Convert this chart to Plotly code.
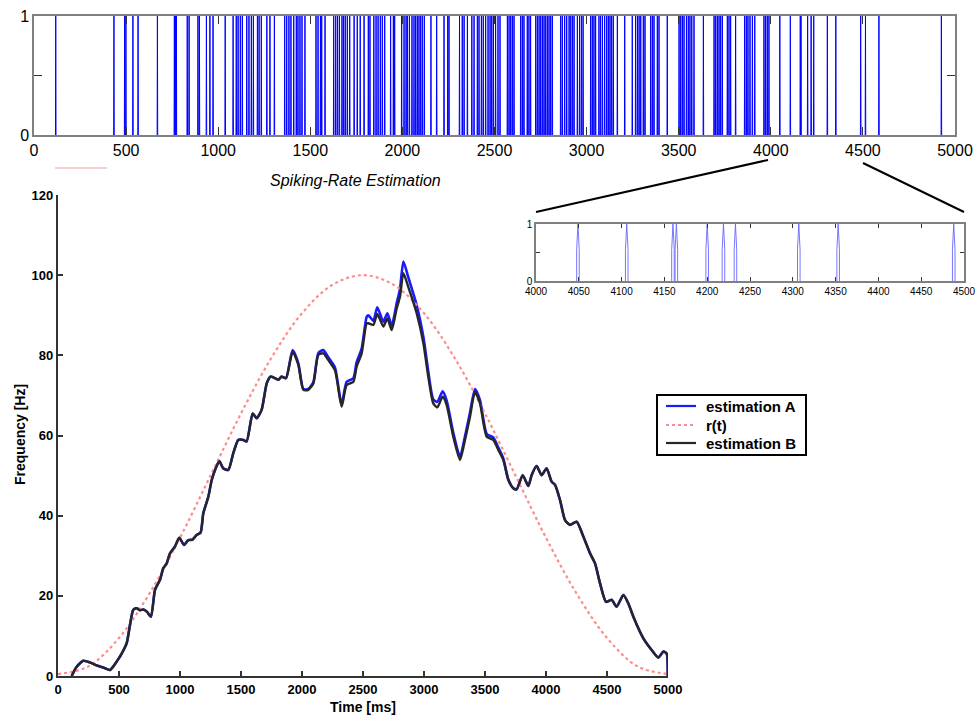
import plotly.graph_objects as go

W, H = 978, 718

# ---------------- data ----------------
spike_times = [
    118, 434, 492, 499, 537, 565, 670, 762, 768, 773, 832, 842, 890, 898, 936, 955, 972,
    1038, 1081, 1098, 1108, 1120, 1131, 1155, 1167, 1180, 1191, 1213, 1222, 1234, 1264,
    1281, 1305, 1361, 1372, 1384, 1395, 1410, 1424, 1433, 1444, 1455, 1471, 1531, 1542,
    1555, 1562, 1580, 1627, 1638, 1648, 1658, 1672, 1681, 1690, 1701, 1714, 1738, 1755,
    1771, 1792, 1815, 1824, 1845, 1857, 1868, 1880, 1891, 1904, 1936, 1951, 1958, 1996,
    2009, 2020, 2027, 2038, 2052, 2063, 2072, 2081, 2090, 2099, 2108, 2119, 2155, 2186,
    2226, 2246, 2253, 2310, 2325, 2335, 2353, 2377, 2389, 2407, 2416, 2429, 2439, 2452,
    2465, 2476, 2485, 2494, 2506, 2519, 2530, 2570, 2579, 2588, 2597, 2606, 2642, 2651,
    2660, 2678, 2687, 2696, 2724, 2733, 2742, 2751, 2760, 2769, 2778, 2787, 2796, 2805,
    2814, 2859, 2868, 2881, 2892, 2905, 2914, 2923, 2932, 2950, 2962, 2972, 2981, 3022,
    3031, 3040, 3049, 3067, 3076, 3086, 3098, 3109, 3118, 3127, 3136, 3145, 3167, 3207,
    3248, 3266, 3276, 3285, 3294, 3308, 3317, 3348, 3357, 3366, 3384, 3393, 3438, 3502,
    3511, 3520, 3529, 3542, 3552, 3561, 3571, 3583, 3634, 3692, 3701, 3710, 3719, 3728,
    3737, 3764, 3773, 3782, 3809, 3858, 3867, 3876, 3887, 3900, 3913, 3963, 3972, 3981,
    3990, 4049, 4106, 4160, 4164, 4200, 4219, 4233, 4307, 4353, 4488, 4514, 4587, 4926,
]

est_t = [112, 150, 207, 260, 320, 380, 426, 481, 522, 563, 590, 617, 645, 672, 699, 730,
         762, 795, 836, 863, 891, 918, 959, 994, 1033, 1068, 1101, 1137, 1169, 1191, 1232,
         1260, 1287, 1322, 1355, 1396, 1437, 1478, 1519, 1546, 1596, 1628, 1669, 1711, 1743,
         1779, 1806, 1833, 1869, 1923, 1970, 2011, 2052, 2093, 2134, 2175, 2216, 2270, 2325,
         2366, 2421, 2448, 2489, 2530, 2544, 2585, 2617, 2667, 2700, 2735, 2776, 2803, 2831,
         2871, 2940, 2995, 3035, 3076, 3109, 3153, 3186, 3240, 3295, 3336, 3377, 3418, 3459,
         3514, 3568, 3609, 3650, 3691, 3732, 3760, 3809, 3855, 3882, 3923, 3964, 4005, 4046,
         4074, 4115, 4156, 4197, 4251, 4306, 4361, 4402, 4443, 4492, 4538, 4579, 4634, 4675,
         4716, 4798, 4866, 4921, 4962, 4989, 4998]

est_B = [0, 2.2, 3.8, 3.4, 2.6, 2.0, 1.5, 3.6, 5.6, 8.2, 12.7, 16.5, 16.9, 16.4, 16.6, 16.0,
         14.8, 21.5, 24.0, 26.9, 28.1, 30.6, 32.3, 34.5, 32.7, 33.9, 34.0, 35.2, 35.8, 40.6, 44.7,
         48.9, 51.4, 53.6, 51.8, 51.4, 55.6, 58.9, 58.9, 58.5, 65.5, 64.3, 66.4, 73.0, 74.7,
         74.3, 73.9, 74.7, 74.3, 80.9, 77.6, 71.4, 71.4, 73.0, 80.1, 80.5, 78.8, 76.3, 67.2,
         72.6, 73.4, 77.2, 80.5, 88.0, 88.0, 87.6, 90.3, 87.2, 89.2, 86.3, 91.7, 94.6, 100.5,
         97.1, 90.5, 83.0, 74.7, 68.0, 67.0, 69.7, 67.6, 59.7, 53.9, 58.9, 64.7, 70.9, 68.0,
         59.7, 58.9, 56.4, 53.9, 48.9, 46.8, 46.6, 50.1, 47.4, 50.1, 52.4, 50.1, 51.8, 48.5,
         47.7, 43.9, 38.9, 37.7, 38.5, 34.8, 30.6, 28.1, 23.1, 18.5, 19.0, 17.3, 20.2, 18.1,
         14.8, 9.4, 6.5, 4.6, 6.1, 5.6, 0]

est_A = [0, 2.2, 3.8, 3.4, 2.6, 2.0, 1.5, 3.6, 5.6, 8.2, 12.7, 16.5, 16.9, 16.4, 16.6, 16.0,
         14.8, 21.5, 24.0, 26.9, 28.1, 30.6, 32.3, 34.5, 32.7, 33.9, 34.0, 35.2, 35.8, 40.6, 44.7,
         48.9, 51.4, 53.6, 51.8, 51.4, 55.6, 58.9, 58.9, 58.5, 65.5, 64.3, 66.4, 73.0, 74.7,
         74.3, 73.9, 74.7, 74.3, 81.3, 78.0, 71.6, 71.6, 73.3, 80.6, 81.3, 79.5, 77.0, 67.8,
         73.4, 74.3, 78.3, 81.7, 89.6, 90.0, 88.6, 92.0, 88.4, 90.5, 87.4, 93.0, 96.5, 103.4,
         99.5, 92.5, 84.6, 76.0, 69.0, 68.4, 71.0, 68.7, 60.7, 54.7, 59.8, 65.7, 71.6, 68.8,
         60.4, 59.5, 57.0, 54.3, 49.1, 46.9, 46.6, 50.1, 47.4, 50.1, 52.4, 50.1, 51.8, 48.5,
         47.7, 43.9, 38.9, 37.7, 38.5, 34.8, 30.6, 28.1, 23.1, 18.5, 19.0, 17.3, 20.2, 18.1,
         14.8, 9.4, 6.5, 4.6, 6.1, 5.6, 0]

r_t = [0, 250, 500, 750, 1000, 1250, 1500, 1750, 2000, 2250, 2500,
       2750, 3000, 3250, 3500, 3750, 4000, 4250, 4500, 4750, 5000]
r_vals = [0.5, 2.4, 9.5, 20.6, 34.5, 50.0, 65.5, 79.4, 90.5, 97.6, 100.0,
          97.6, 90.5, 79.4, 65.5, 50.0, 34.5, 20.6, 9.5, 2.4, 0.5]

top_xticks = list(range(0, 5001, 500))
main_yticks = list(range(0, 121, 20))
inset_xticks = list(range(4000, 4501, 50))

legend_labels = ["estimation A", "r(t)", "estimation B"]
colors = {"A": "#1a1aff", "r": "#ff8c8c", "B": "#262626"}

# ---------------- helpers ----------------
def px_x(p):
    return p / W

def px_y(p):
    return 1 - p / H

spk_x, spk_y = [], []
for t in spike_times:
    spk_x += [t - 1.5, t - 1.5, t, t + 1.5, t + 1.5, None]
    spk_y += [0, 0.55, 1, 0.55, 0, None]

FONT = "Liberation Sans, Arial, sans-serif"
INSET_RIGHT = 964

fig = go.Figure()

# top raster
fig.add_trace(go.Scatter(x=spk_x, y=spk_y, mode="lines", line=dict(color="#0000ff", width=1),
                         xaxis="x", yaxis="y", showlegend=False, hoverinfo="skip"))
# inset raster
fig.add_trace(go.Scatter(x=spk_x, y=spk_y, mode="lines", line=dict(color="#6666ff", width=0.9),
                         xaxis="x3", yaxis="y3", showlegend=False, hoverinfo="skip"))

# main curves
fig.add_trace(go.Scatter(x=est_t, y=est_A, mode="lines", name=legend_labels[0],
                         line=dict(color=colors["A"], width=2.6, shape="spline", smoothing=0.6),
                         xaxis="x2", yaxis="y2", showlegend=False))
fig.add_trace(go.Scatter(x=r_t, y=r_vals, mode="lines", name=legend_labels[1],
                         line=dict(color=colors["r"], width=2.2, dash="dot", shape="spline"),
                         xaxis="x2", yaxis="y2", showlegend=False))
fig.add_trace(go.Scatter(x=est_t, y=est_B, mode="lines", name=legend_labels[2],
                         line=dict(color=colors["B"], width=2.4, shape="spline", smoothing=0.6),
                         xaxis="x2", yaxis="y2", showlegend=False))

frame_common = dict(showgrid=False, zeroline=False, showline=True, mirror="ticks",
                    ticks="inside", linecolor="#808080", linewidth=1.5,
                    tickcolor="#333333", automargin=False, ticklabeloverflow="allow")

main_common = dict(showgrid=False, zeroline=False, showline=True, linecolor="#333333",
                   linewidth=2.2, ticks="inside", ticklen=5, tickwidth=2,
                   tickcolor="#333333", automargin=False, ticklabeloverflow="allow",
                   tickfont=dict(size=13, family=FONT, weight="bold"))

# manual legend (box, samples, labels)
leg_left, leg_top, leg_right, leg_bottom = 657, 395, 806, 455
row_y = [406, 425, 443]
sample_styles = [dict(color=colors["A"], width=2.2),
                 dict(color=colors["r"], width=2, dash="dot"),
                 dict(color=colors["B"], width=2.2)]

shapes = [
    dict(type="line", xref="paper", yref="paper", x0=px_x(768), y0=px_y(160),
         x1=px_x(536), y1=px_y(212), line=dict(color="black", width=2)),
    dict(type="line", xref="paper", yref="paper", x0=px_x(863), y0=px_y(163),
         x1=px_x(INSET_RIGHT), y1=px_y(212), line=dict(color="black", width=2)),
    dict(type="line", xref="paper", yref="paper", x0=px_x(55), y0=px_y(168),
         x1=px_x(107), y1=px_y(168), line=dict(color="#f0a0a0", width=1)),
    dict(type="rect", xref="paper", yref="paper", x0=px_x(leg_left), y0=px_y(leg_bottom),
         x1=px_x(leg_right), y1=px_y(leg_top), line=dict(color="black", width=2),
         fillcolor="white", layer="above"),
]
annotations = [
    dict(text="<i>Spiking-Rate Estimation</i>", x=px_x(355), y=px_y(181),
         xref="paper", yref="paper", showarrow=False,
         font=dict(size=16, family=FONT), xanchor="center", yanchor="middle"),
    dict(text="<b>Time [ms]</b>", x=px_x(363), y=px_y(707),
         xref="paper", yref="paper", showarrow=False,
         font=dict(size=14, family=FONT), xanchor="center", yanchor="middle"),
    dict(text="<b>Frequency [Hz]</b>", x=px_x(20), y=px_y(435), textangle=-90,
         xref="paper", yref="paper", showarrow=False,
         font=dict(size=14, family=FONT), xanchor="center", yanchor="middle"),
]
for lab, ry, st in zip(legend_labels, row_y, sample_styles):
    shapes.append(dict(type="line", xref="paper", yref="paper", x0=px_x(666), x1=px_x(696),
                       y0=px_y(ry), y1=px_y(ry), line=st, layer="above"))
    annotations.append(dict(text="<b>" + lab + "</b>", x=px_x(704), y=px_y(ry),
                            xref="paper", yref="paper", showarrow=False,
                            font=dict(size=15, family=FONT), xanchor="left",
                            yanchor="middle"))

fig.update_layout(
    width=W, height=H,
    margin=dict(l=0, r=0, t=0, b=0, autoexpand=False),
    paper_bgcolor="white", plot_bgcolor="white",
    font=dict(family=FONT, color="black"),
    showlegend=False,
    xaxis=dict(domain=[px_x(34), px_x(955)], range=[0, 5000], anchor="y",
               tickvals=top_xticks, ticklen=8, tickwidth=1,
               tickfont=dict(size=16, family=FONT), **frame_common),
    yaxis=dict(domain=[px_y(135), px_y(16)], range=[0, 1], anchor="x",
               tickvals=[0, 0.5, 1], ticktext=["0", "", "1"], ticklen=8, tickwidth=1,
               tickfont=dict(size=16, family=FONT), **frame_common),
    xaxis2=dict(domain=[px_x(58), px_x(668)], range=[0, 5000], anchor="y2",
                tickvals=top_xticks, **main_common),
    yaxis2=dict(domain=[px_y(676), px_y(195)], range=[0, 120], anchor="x2",
                tickvals=main_yticks, **main_common),
    xaxis3=dict(domain=[px_x(536), px_x(INSET_RIGHT)], range=[4000, 4500], anchor="y3",
                tickvals=inset_xticks, ticklen=4, tickwidth=1,
                tickfont=dict(size=10, family=FONT), **frame_common),
    yaxis3=dict(domain=[px_y(281), px_y(224)], range=[0, 1], anchor="x3",
                tickvals=[0, 0.5, 1], ticktext=["0", "", "1"], ticklen=4, tickwidth=1,
                tickfont=dict(size=10, family=FONT), **frame_common),
    annotations=annotations,
    shapes=shapes,
)

fig.write_html(
    "out.html",
    config={"displayModeBar": False},
    post_script="document.body.style.margin='0px';document.body.style.overflow='hidden';",
)
